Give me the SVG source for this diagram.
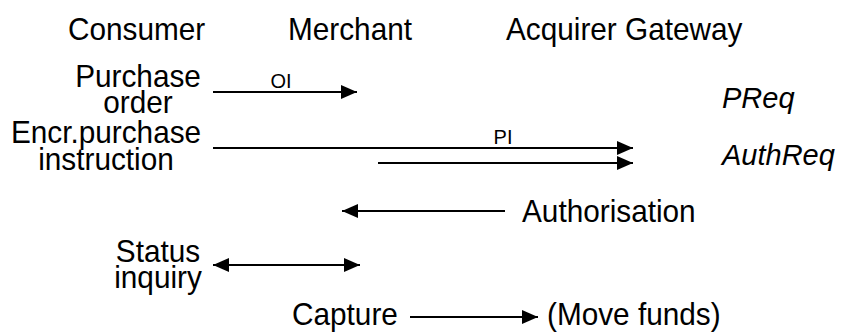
<svg xmlns="http://www.w3.org/2000/svg" width="847" height="335" viewBox="0 0 847 335">
<style>
text{font-family:"Liberation Sans",Arial,sans-serif;fill:#000}
.t{font-size:32px}
.s{font-size:20px}
.i{font-size:29px;font-style:italic}
.m{text-anchor:middle}
.c{stroke:#000;stroke-width:2;fill:none}
</style>
<defs>
<marker id="ah" viewBox="0 0 16 16" refX="16" refY="8" markerWidth="16" markerHeight="16" markerUnits="userSpaceOnUse" orient="auto-start-reverse">
<path d="M0,1 L16,8 L0,15 Z" fill="#000"/>
</marker>
</defs>
<rect width="847" height="335" fill="#fff"/>
<g id="consumer" transform="translate(68,40) scale(0.93,1)"><text class="t">Consumer</text></g>
<g id="merchant" transform="translate(288,40) scale(0.93,1)"><text class="t">Merchant</text></g>
<g id="acquirer" transform="translate(506,40) scale(0.93,1)"><text class="t">Acquirer Gateway</text></g>
<g id="purchase-order" transform="translate(138,0) scale(0.93,1)"><text class="t m"><tspan x="0" y="87">Purchase</tspan><tspan x="0" y="113">order</tspan></text></g>
<g id="encr" transform="translate(106,0) scale(0.93,1)"><text class="t m"><tspan x="0" y="143">Encr.purchase</tspan><tspan x="0" y="170">instruction</tspan></text></g>
<g id="preq"><text class="i" x="722" y="108">PReq</text></g>
<g id="authreq"><text class="i" x="722" y="165">AuthReq</text></g>
<g id="authorisation" transform="translate(522,222) scale(0.93,1)"><text class="t">Authorisation</text></g>
<g id="status" transform="translate(158,0) scale(0.93,1)"><text class="t m"><tspan x="0" y="262">Status</tspan><tspan x="0" y="288">inquiry</tspan></text></g>
<g id="capture" transform="translate(292,325) scale(0.93,1)"><text class="t">Capture</text></g>
<g id="move-funds" transform="translate(547,325) scale(0.93,1)"><text class="t">(Move funds)</text></g>
<g id="connectors">
<line class="c" x1="213" y1="92" x2="357" y2="92" marker-end="url(#ah)"/>
<text class="s m" x="281" y="88">OI</text>
<line class="c" x1="213" y1="148" x2="633" y2="148" marker-end="url(#ah)"/>
<text class="s m" x="503" y="144">PI</text>
<line class="c" x1="378" y1="163" x2="633" y2="163" marker-end="url(#ah)"/>
<line class="c" x1="505" y1="211" x2="342" y2="211" marker-end="url(#ah)"/>
<line class="c" x1="213" y1="265" x2="360" y2="265" marker-start="url(#ah)" marker-end="url(#ah)"/>
<line class="c" x1="410" y1="317" x2="538" y2="317" stroke-width="1.5" marker-end="url(#ah)"/>
</g>
</svg>
